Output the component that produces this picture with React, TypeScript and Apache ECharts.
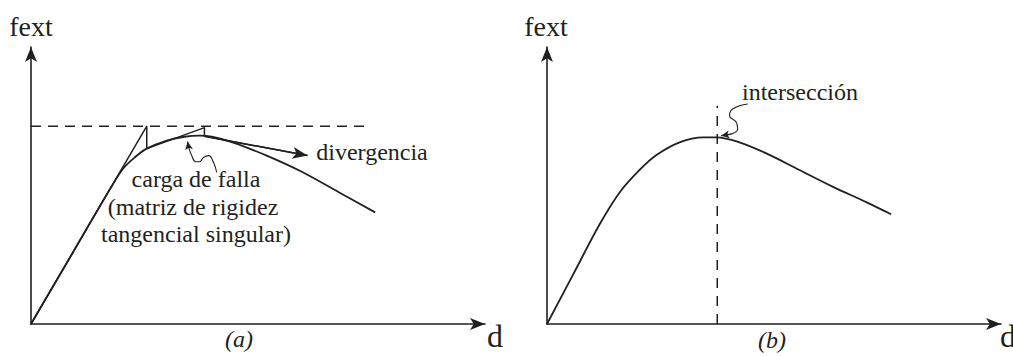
import React, { useEffect, useRef } from "react";
import * as echarts from "echarts";

const INK = "#231f20";
const FONT = "Liberation Serif";

// ---- Panel (a): equilibrium path and tangent (Newton) iterations ----
const curveA: [number, number][] = [
  [0, 0], [9, 25.2], [17.8, 49.8], [20.4, 56.3], [22.9, 60.2], [25.5, 63.3],
  [29.9, 66.2], [33.8, 67.6], [37.1, 68.0], [39.8, 67.6], [44.4, 65.6],
  [51.9, 60.8], [59.1, 55.4], [67.9, 47.5], [75.8, 40.3],
];
const iterationsA: [number, number][] = [
  [0, 0], [25.5, 71.4], [25.5, 63.3], [38.2, 70.9], [38.2, 67.8],
];
const divergenceA: [number, number][] = [[38.2, 67.8], [60.9, 60.8]];
const loadLevelA = 71.4;
const loadLevelEndA = 74.1;
const squiggleA: [number, number][] = [
  [40.9, 54.7], [40.2, 58.3], [39.1, 60.8], [38.0, 60.1], [37.1, 58.6],
  [36.3, 58.6], [35.4, 60.8], [34.7, 64.0], [34.5, 65.8],
];

// ---- Panel (b): equilibrium path and the intersection with a fixed displacement ----
const curveB: [number, number][] = [
  [0, 0], [5.8, 18.0], [11.6, 36.0], [16.0, 47.5], [20.4, 55.6], [24.1, 61.0],
  [29.2, 65.6], [34.4, 67.4], [37.3, 67.4], [42.4, 65.6], [48.3, 61.6],
  [55.6, 55.6], [62.9, 49.6], [70.3, 44.0], [75.8, 39.6],
];
const intersectionX = 37.5;
const intersectionTop = 78.8;
const squiggleB: [number, number][] = [
  [44.2, 79.4], [40.9, 77.6], [40.2, 75.2], [41.7, 72.8], [42.0, 70.4],
  [40.6, 68.6], [38.4, 68.0],
];

const labelsA = ["carga de falla", "(matriz de rigidez", "tangencial singular)"];

function axisPair(grid: number) {
  const line = {
    show: true,
    onZero: false,
    symbol: ["none", "arrow"],
    symbolSize: [9, 15],
    lineStyle: { color: INK, width: 1.6 },
  };
  const common = {
    type: "value" as const,
    gridIndex: grid,
    min: 0,
    max: 100,
    axisLine: line,
    axisTick: { show: false },
    axisLabel: { show: false },
    splitLine: { show: false },
  };
  return { x: { ...common }, y: { ...common } };
}

function pathSeries(idx: number, data: [number, number][], extra: any = {}) {
  return {
    type: "line",
    xAxisIndex: idx,
    yAxisIndex: idx,
    data,
    showSymbol: false,
    symbol: "none",
    silent: true,
    lineStyle: { color: INK, width: 1.8 },
    ...extra,
  };
}

function arrowHead(from: [number, number], to: [number, number], size: number[], width: number) {
  return {
    silent: true,
    symbol: ["none", "arrow"],
    symbolSize: size,
    label: { show: false },
    emphasis: { disabled: true },
    lineStyle: { color: INK, width, type: "solid" },
    data: [[{ coord: from }, { coord: to }]],
  };
}

function text(t: string, x: number, y: number, size: number, italic = false) {
  return {
    type: "text",
    x,
    y,
    silent: true,
    style: {
      text: t,
      fill: INK,
      fontFamily: FONT,
      fontSize: size,
      fontStyle: italic ? "italic" : "normal",
      align: "center",
      verticalAlign: "middle",
    },
  };
}

export default function App() {
  const ref = useRef<HTMLDivElement>(null);

  useEffect(() => {
    if (!ref.current) return;
    const chart = echarts.init(ref.current, null, { renderer: "svg" });
    const a = axisPair(0);
    const b = axisPair(1);
    const sqA = squiggleA.length;
    const sqB = squiggleB.length;

    chart.setOption({
      animation: false,
      backgroundColor: "#ffffff",
      grid: [
        { left: 31, top: 47, width: 454, height: 277 },
        { left: 547, top: 47, width: 454, height: 277 },
      ],
      xAxis: [a.x, b.x],
      yAxis: [a.y, b.y],
      series: [
        pathSeries(0, curveA, { smooth: 0.35 }),
        pathSeries(0, iterationsA, { lineStyle: { color: INK, width: 1.5 } }),
        pathSeries(0, divergenceA, {
          lineStyle: { color: INK, width: 1.5 },
          markLine: arrowHead(divergenceA[0], divergenceA[1], [9, 15], 1.5),
        }),
        pathSeries(0, [[0, loadLevelA], [loadLevelEndA, loadLevelA]], {
          lineStyle: { color: INK, width: 1.5, type: [10, 7] },
        }),
        pathSeries(0, squiggleA, {
          smooth: 0.5,
          lineStyle: { color: INK, width: 1.1 },
          markLine: arrowHead(squiggleA[sqA - 2], squiggleA[sqA - 1], [6, 8], 1.1),
        }),
        pathSeries(1, curveB, { smooth: 0.35 }),
        pathSeries(1, [[intersectionX, 0], [intersectionX, intersectionTop]], {
          lineStyle: { color: INK, width: 1.5, type: [10, 8] },
        }),
        pathSeries(1, squiggleB, {
          smooth: 0.5,
          lineStyle: { color: INK, width: 1.1 },
          markLine: arrowHead(squiggleB[sqB - 2], squiggleB[sqB - 1], [6, 8], 1.1),
        }),
      ],
      graphic: [
        text("fext", 31, 26, 28),
        text("fext", 546, 26, 28),
        text("d", 495, 336, 32),
        text("d", 1008, 336, 32),
        text("(a)", 239, 339, 24, true),
        text("(b)", 772, 340, 24, true),
        text(labelsA[0], 196, 179, 24),
        text(labelsA[1], 193, 207, 24),
        text(labelsA[2], 196, 234, 24),
        text("divergencia", 372, 152, 24),
        text("intersección", 800, 92, 24),
      ],
    });
    return () => chart.dispose();
  }, []);

  return (
    <div
      ref={ref}
      style={{ position: "fixed", left: 0, top: 0, width: 1013, height: 356, background: "#fff" }}
    />
  );
}
